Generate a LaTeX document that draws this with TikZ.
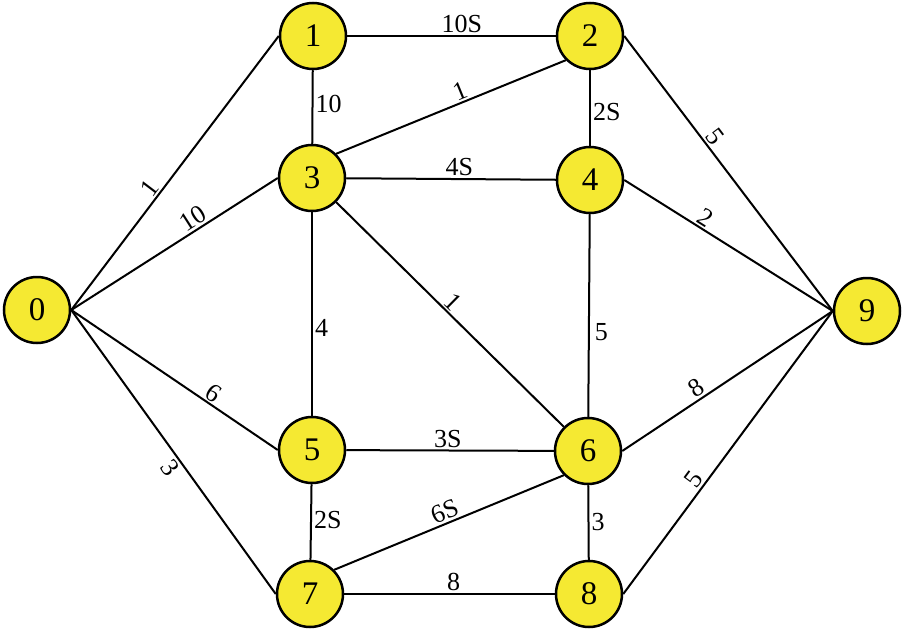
\documentclass[tikz,border=0pt]{standalone}
\usepackage{fontspec}
\setmainfont{Liberation Serif}
\usetikzlibrary{backgrounds}
\definecolor{nodeyellow}{RGB}{245,233,50}
\begin{document}
\begin{tikzpicture}[x=1pt,y=-1pt,
  vtx/.style={circle,draw=black,line width=2.5pt,fill=nodeyellow,minimum size=66pt,inner sep=0pt,font=\fontsize{33}{35}\selectfont},
  lbl/.style={font=\fontsize{26}{28}\selectfont,inner sep=2pt},
  link/.style={line width=2pt,draw=black}]
\useasboundingbox (0,0) rectangle (903,629);
\node[vtx] (n0) at (37,310) {0};
\node[vtx] (n1) at (313,36) {1};
\node[vtx] (n2) at (590,36) {2};
\node[vtx] (n3) at (312,178) {3};
\node[vtx] (n4) at (590,180) {4};
\node[vtx] (n5) at (312,450) {5};
\node[vtx] (n6) at (588,451) {6};
\node[vtx] (n7) at (310,594) {7};
\node[vtx] (n8) at (589,594) {8};
\node[vtx] (n9) at (867,311) {9};
\begin{scope}[on background layer]
\draw[link] (n0.east) -- node[lbl,pos=0.42,sloped,above] {1} (n1.west);
\draw[link] (n0.east) -- node[lbl,pos=0.62,sloped,above] {10} (n3.west);
\draw[link] (n0.east) -- node[lbl,pos=0.66,sloped,above] {6} (n5.west);
\draw[link] (n0.east) -- node[lbl,pos=0.53,sloped,below] {3} (n7.west);
\draw[link] (n1) -- node[lbl,pos=0.55,above] {10S} (n2);
\draw[link] (n1) -- node[lbl,pos=0.46,right] {10} (n3);
\draw[link] (n3.north east) -- node[lbl,pos=0.56,sloped,above] {1} (n2.south west);
\draw[link] (n2) -- node[lbl,pos=0.55,right] {2S} (n4);
\draw[link] (n2.east) -- node[lbl,pos=0.39,sloped,above] {5} (n9.west);
\draw[link] (n3) -- node[lbl,pos=0.54,above] {4S} (n4);
\draw[link] (n3) -- node[lbl,pos=0.57,right] {4} (n5);
\draw[link] (n3.south east) -- node[lbl,pos=0.48,sloped,above] {1} (n6.north west);
\draw[link] (n4) -- node[lbl,pos=0.58,right,xshift=3pt] {5} (n6);
\draw[link] (n4.east) -- node[lbl,pos=0.36,sloped,above] {2} (n9.west);
\draw[link] (n5) -- node[lbl,pos=0.49,above] {3S} (n6);
\draw[link] (n5) -- node[lbl,pos=0.47,right] {2S} (n7);
\draw[link] (n7.north east) -- node[lbl,pos=0.5,sloped,above] {6S} (n6.south west);
\draw[link] (n6) -- node[lbl,pos=0.49,right] {3} (n8);
\draw[link] (n6.east) -- node[lbl,pos=0.38,sloped,above] {8} (n9.west);
\draw[link] (n7) -- node[lbl,pos=0.52,above] {8} (n8);
\draw[link] (n8.east) -- node[lbl,pos=0.38,sloped,above] {5} (n9.west);
\end{scope}
\end{tikzpicture}
\end{document}
